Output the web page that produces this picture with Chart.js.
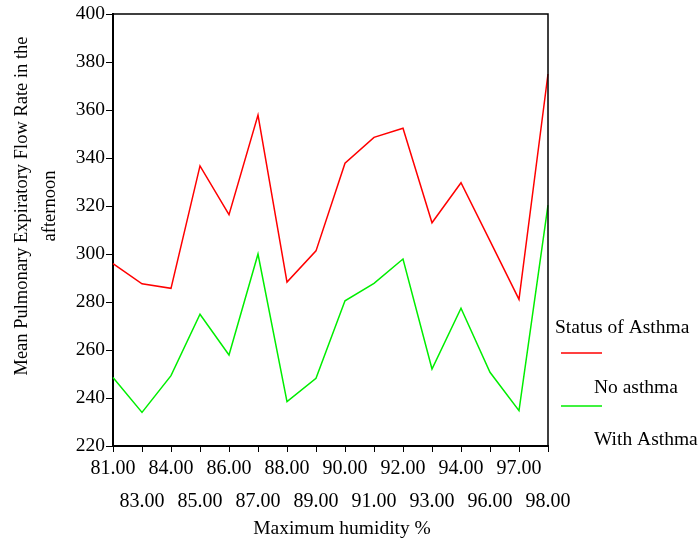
<!DOCTYPE html>
<html>
<head>
<meta charset="utf-8">
<script src="https://cdn.jsdelivr.net/npm/chart.js@4.4.0/dist/chart.umd.min.js"></script>
<style>
html,body{margin:0;padding:0;background:#fff;}
#wrap{position:relative;width:699px;height:539px;}
</style>
</head>
<body>
<div id="wrap"><canvas id="c" width="699" height="539"></canvas></div>
<script>
const categories = ['81.00','83.00','84.00','85.00','86.00','87.00','88.00','89.00','90.00','91.00','92.00','93.00','94.00','96.00','97.00','98.00'];
const noAsthma = [296, 287.6, 285.7, 336.7, 316.4, 357.9, 288.3, 301.3, 337.8, 348.6, 352.4, 313.0, 329.7, 305.5, 281.1, 375];
const withAsthma = [248.5, 234.0, 249.3, 274.9, 257.9, 300.0, 238.5, 248.2, 280.5, 287.8, 297.9, 252.1, 277.4, 250.7, 234.7, 320.4];
const yTicks = [220, 240, 260, 280, 300, 320, 340, 360, 380, 400];
const legendTitle = 'Status of Asthma';
const yTitle = ['Mean Pulmonary Expiratory Flow Rate in the', 'afternoon'];
const xTitle = 'Maximum humidity %';

const FONT = '"Liberation Serif", "Times New Roman", serif';

const decor = {
  id: 'decor',
  afterDraw(chart) {
    const ctx = chart.ctx;
    const a = chart.chartArea;
    ctx.save();
    // frame top and right
    ctx.strokeStyle = '#000';
    ctx.lineWidth = 1.5;
    ctx.beginPath();
    ctx.moveTo(a.left, a.top);
    ctx.lineTo(a.right, a.top);
    ctx.lineTo(a.right, a.bottom);
    ctx.stroke();
    // y title
    ctx.fillStyle = '#000';
    ctx.font = '18.5px ' + FONT;
    ctx.textAlign = 'center';
    ctx.textBaseline = 'middle';
    ctx.save();
    ctx.translate(22, 206);
    ctx.rotate(-Math.PI / 2);
    ctx.fillText(yTitle[0], 0, 0);
    ctx.restore();
    ctx.save();
    ctx.translate(50, 206);
    ctx.rotate(-Math.PI / 2);
    ctx.fillText(yTitle[1], 0, 0);
    ctx.restore();
    // x title
    ctx.font = '19.5px ' + FONT;
    ctx.fillText(xTitle, 342, 529);
    // legend
    ctx.textAlign = 'left';
    ctx.fillText(legendTitle, 555, 328);
    const ds = chart.data.datasets;
    const lineY = [353, 406];
    const textY = [388, 440];
    ds.forEach((d, i) => {
      ctx.strokeStyle = d.borderColor;
      ctx.lineWidth = 1.5;
      ctx.beginPath();
      ctx.moveTo(561, lineY[i]);
      ctx.lineTo(602, lineY[i]);
      ctx.stroke();
      ctx.fillStyle = '#000';
      ctx.fillText(d.label, 594, textY[i]);
    });
    ctx.restore();
  }
};

new Chart(document.getElementById('c'), {
  type: 'line',
  data: {
    labels: categories,
    datasets: [
      { label: 'No asthma', data: noAsthma, borderColor: '#ff0000', borderWidth: 1.5, pointRadius: 0, tension: 0, fill: false },
      { label: 'With Asthma', data: withAsthma, borderColor: '#00ee00', borderWidth: 1.5, pointRadius: 0, tension: 0, fill: false }
    ]
  },
  options: {
    responsive: false,
    animation: false,
    layout: { padding: { top: 14, right: 151, left: 0, bottom: 0 } },
    plugins: { legend: { display: false }, tooltip: { enabled: false } },
    scales: {
      x: {
        offset: false,
        afterFit(s) { s.height = 93; },
        grid: { drawOnChartArea: false, drawTicks: true, tickLength: 6, color: '#000', lineWidth: 1 },
        border: { display: true, color: '#000', width: 2 },
        ticks: {
          autoSkip: false, maxRotation: 0, minRotation: 0, color: '#000', padding: 0,
          font: { family: FONT, size: 20, lineHeight: 1.65 },
          callback(v, i) { return i % 2 === 0 ? categories[i] : ['', categories[i]]; }
        }
      },
      y: {
        min: 220, max: 400,
        afterFit(s) { s.width = 113; },
        afterBuildTicks(s) { s.ticks = yTicks.map(v => ({ value: v })); },
        grid: { drawOnChartArea: false, drawTicks: true, tickLength: 7, color: '#000', lineWidth: 1 },
        border: { display: true, color: '#000', width: 2 },
        ticks: { color: '#000', padding: 1, font: { family: FONT, size: 19.5 } }
      }
    }
  },
  plugins: [decor]
});
</script>
</body>
</html>
